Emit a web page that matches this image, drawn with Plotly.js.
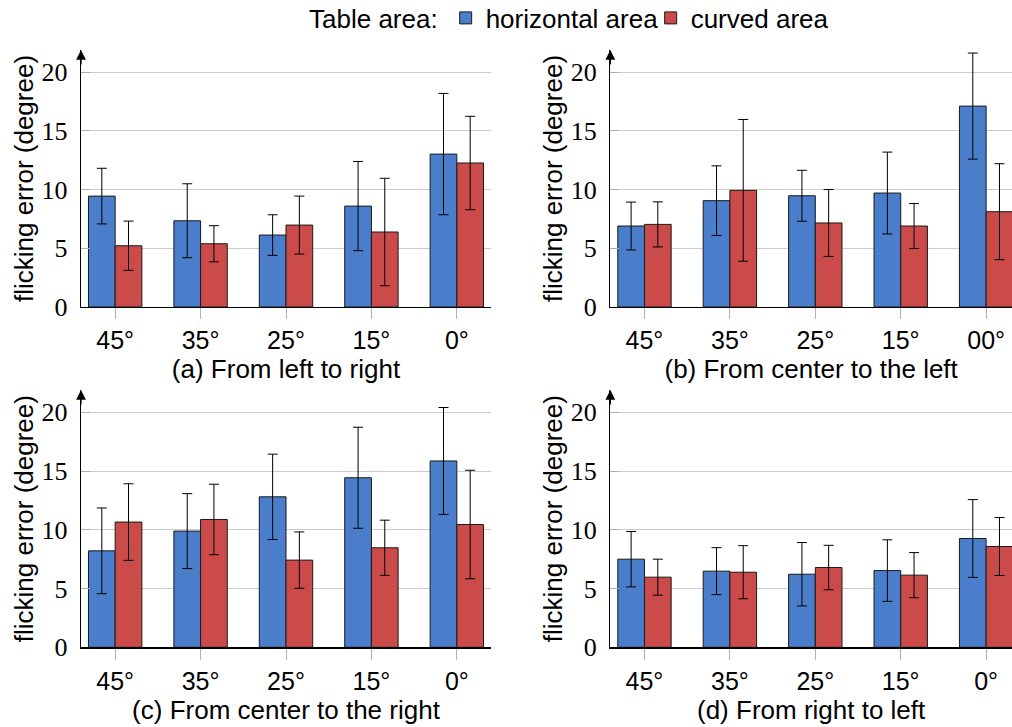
<!DOCTYPE html>
<html>
<head>
<meta charset="utf-8">
<script src="https://cdn.plot.ly/plotly-3.0.1.min.js"></script>
<style>html,body{margin:0;padding:0;background:#fff;}#chart{width:1012px;height:727px;}</style>
</head>
<body>
<div id="chart"></div>
<script>
// ---- data ----
const catsA = ['45°', '35°', '25°', '15°', '0°'];
const catsB = ['45°', '35°', '25°', '15°', '00°'];
const catsC = ['45°', '35°', '25°', '15°', '0°'];
const catsD = ['45°', '35°', '25°', '15°', '0°'];

const captionA = '(a) From left to right';
const captionB = '(b) From center to the left';
const captionC = '(c) From center to the right';
const captionD = '(d) From right to left';

const horizA = [9.45, 7.35, 6.13, 8.6, 13.03];
const horizErrA = [2.37, 3.15, 1.73, 3.8, 5.17];
const curvedA = [5.22, 5.39, 6.98, 6.39, 12.27];
const curvedErrA = [2.1, 1.54, 2.47, 4.58, 3.98];

const horizB = [6.9, 9.06, 9.48, 9.71, 17.12];
const horizErrB = [2.04, 2.97, 2.17, 3.49, 4.52];
const curvedB = [7.04, 9.94, 7.16, 6.9, 8.12];
const curvedErrB = [1.92, 6.04, 2.85, 1.92, 4.09];

const horizC = [8.21, 9.89, 12.81, 14.43, 15.86];
const horizErrC = [3.65, 3.19, 3.63, 4.3, 4.55];
const curvedC = [10.66, 10.88, 7.42, 8.47, 10.45];
const curvedErrC = [3.26, 3.0, 2.4, 2.35, 4.62];

const horizD = [7.5, 6.48, 6.22, 6.53, 9.26];
const horizErrD = [2.36, 2.0, 2.7, 2.62, 3.31];
const curvedD = [5.97, 6.39, 6.79, 6.14, 8.58];
const curvedErrD = [1.53, 2.26, 1.89, 1.92, 2.47];

const seriesNames = ['horizontal area', 'curved area'];
const legendTitle = 'Table area:';
const yTitle = 'flicking error (degree)';
const yTicks = [0, 5, 10, 15, 20];

// ---- style ----
const BLUE = '#4a7ecb';
const RED = '#cb4b4b';
const SANS = 'Liberation Sans, Arial, sans-serif';
const SERIF = 'Liberation Serif, Times New Roman, serif';

function bars(cats, vals, errs, color, name, ax, show, ew) {
  const t = {
    type: 'bar', x: cats, y: vals, name: name,
    xaxis: 'x' + ax, yaxis: 'y' + ax, showlegend: show,
    marker: {color: color, line: {color: '#1a1a1a', width: 1}},
    error_y: {type: 'data', array: errs, visible: true, color: '#000', thickness: 1, width: 5},
    hoverinfo: 'skip'
  };
  if (ew) t.legendwidth = ew;
  return t;
}

const traces = [
  bars(catsA, horizA, horizErrA, BLUE, seriesNames[0], '', true, 160),
  bars(catsA, curvedA, curvedErrA, RED, seriesNames[1], '', true, 140),
  bars(catsB, horizB, horizErrB, BLUE, seriesNames[0], '2', false),
  bars(catsB, curvedB, curvedErrB, RED, seriesNames[1], '2', false),
  bars(catsC, horizC, horizErrC, BLUE, seriesNames[0], '3', false),
  bars(catsC, curvedC, curvedErrC, RED, seriesNames[1], '3', false),
  bars(catsD, horizD, horizErrD, BLUE, seriesNames[0], '4', false),
  bars(catsD, curvedD, curvedErrD, RED, seriesNames[1], '4', false)
];

const W = 1012, H = 727;
const leftDom = [81 / W, 491 / W];
const rightDom = [610.3 / W, 1];
const topDom = [1 - 307 / H, 1 - 50 / H];
const botDom = [1 - 647.3 / H, 1 - 390 / H];
const pxPerCat = 410 / 4.8;
const rightRange = [-0.4, -0.4 + (W - 610.3) / pxPerCat];

function xax(dom, range, caption, anchor) {
  return {
    domain: dom, range: range, anchor: anchor, type: 'category',
    showline: true, linecolor: '#000', linewidth: 1.3,
    ticks: 'outside', ticklen: 11, tickcolor: '#b0b0b0', tickwidth: 1,
    showgrid: false, zeroline: false, automargin: false,
    tickfont: {family: SANS, size: 25, color: '#000'},
    title: {text: caption, font: {family: SANS, size: 26, color: '#000'}, standoff: 1},
    fixedrange: true
  };
}
function yax(dom, anchor) {
  return {
    domain: dom, range: [0, 21.9], anchor: anchor,
    showline: true, linecolor: '#000', linewidth: 1.3,
    tickvals: yTicks, ticks: 'inside', ticklen: 9, tickcolor: '#b0b0b0',
    showgrid: true, gridcolor: '#cccccc', gridwidth: 1, zeroline: false, automargin: false,
    tickfont: {family: SERIF, size: 26, color: '#000'},
    ticklabelstandoff: 7,
    title: {text: yTitle, font: {family: SANS, size: 26, color: '#000'}, standoff: 0},
    fixedrange: true
  };
}

function arrow(ax) {
  return {
    xref: 'x' + ax + ' domain', yref: 'y' + ax + ' domain', x: 0, y: 1,
    ax: 0, ay: 16, axref: 'pixel', ayref: 'pixel',
    text: '', showarrow: true, arrowhead: 2, arrowsize: 1.5, arrowwidth: 1.3,
    arrowcolor: '#000', standoff: 0
  };
}

const layout = {
  width: W, height: H,
  margin: {l: 0, r: 0, t: 0, b: 0, autoexpand: false},
  paper_bgcolor: '#fff', plot_bgcolor: '#fff',
  font: {family: SANS, size: 26, color: '#000'},
  barmode: 'group', bargap: 0.375, bargroupgap: 0,
  showlegend: true,
  legend: {
    orientation: 'h', x: 307 / W, xanchor: 'left', y: 1 - 18 / H, yanchor: 'middle',
    title: {text: legendTitle, side: 'left', font: {family: SANS, size: 26}},
    font: {family: SANS, size: 26, color: '#000'},
    itemwidth: 30, tracegroupgap: 0, borderwidth: 0, bgcolor: 'rgba(0,0,0,0)'
  },
  xaxis: xax(leftDom, [-0.4, 4.4], captionA, 'y'),
  yaxis: yax(topDom, 'x'),
  xaxis2: xax(rightDom, rightRange, captionB, 'y2'),
  yaxis2: yax(topDom, 'x2'),
  xaxis3: xax(leftDom, [-0.4, 4.4], captionC, 'y3'),
  yaxis3: yax(botDom, 'x3'),
  xaxis4: xax(rightDom, rightRange, captionD, 'y4'),
  yaxis4: yax(botDom, 'x4'),
  annotations: [arrow(''), arrow('2'), arrow('3'), arrow('4')]
};

Plotly.newPlot('chart', traces, layout, {staticPlot: true, displayModeBar: false});
</script>
</body>
</html>
